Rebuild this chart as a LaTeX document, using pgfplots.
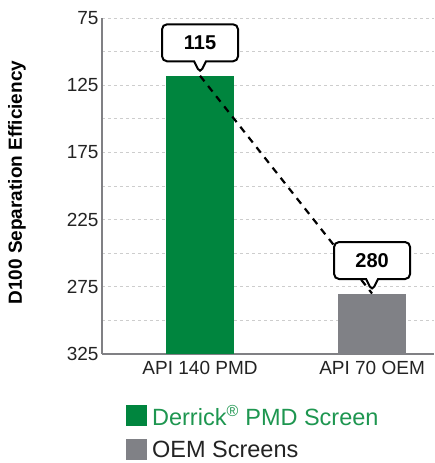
\documentclass[border=0pt]{standalone}
\usepackage{fontspec}
\setmainfont{Liberation Sans}
\usepackage{pgfplots}
\pgfplotsset{compat=1.18}
\usetikzlibrary{shapes.callouts}
\definecolor{pmdgreen}{RGB}{0,133,62}
\definecolor{oemgrey}{RGB}{128,129,134}
\definecolor{legendgreen}{RGB}{30,150,80}
\definecolor{axisgrey}{RGB}{128,128,132}
\definecolor{gridgrey}{RGB}{205,205,205}
\definecolor{ticktext}{RGB}{35,35,35}
\begin{document}
\begin{tikzpicture}
\useasboundingbox (-102pt,-109pt) rectangle (332pt,354pt);
\begin{axis}[
  at={(0,0)}, anchor=south west,
  scale only axis, width=332pt, height=336pt,
  xmin=-0.57, xmax=1.36, ymin=75, ymax=325, y dir=reverse,
  axis x line*=bottom, axis y line*=left,
  axis line style={axisgrey, line width=1.5pt},
  xtick={0,1}, xticklabels={API 140 PMD, API 70 OEM},
  ytick={75,125,175,225,275,325},
  minor ytick={100,150,200,250,300},
  major tick length=0pt, minor tick length=0pt,
  ymajorgrids, yminorgrids,
  major grid style={gridgrey, dashed, line width=0.8pt},
  minor grid style={gridgrey, dashed, line width=0.8pt},
  /pgf/number format/assume math mode=true,
  ticklabel style={font=\fontsize{19}{22}\selectfont, text=ticktext},
  xticklabel style={yshift=-4pt},
  ylabel={D100 Separation Efficiency},
  ylabel style={font=\bfseries\fontsize{19}{22}\selectfont, at={(axis description cs:-0.256,0.51)}, anchor=center, rotate=0},
  legend style={draw=none, fill=none, at={(axis description cs:0.072,-0.146)}, anchor=north west,
    font=\fontsize{23.5}{28}\selectfont, row sep=10pt, inner sep=0pt,
    nodes={inner xsep=5pt}},
  legend cell align=left,
  legend image code/.code={\fill[#1] (0pt,-10pt) rectangle (21pt,11pt);},
]
\addplot[fill=pmdgreen, draw=none] coordinates {(-0.2,325) (-0.2,118) (0.2,118) (0.2,325)} -- cycle;
\addlegendentry{\textcolor{legendgreen}{Derrick\textsuperscript{\fontsize{16}{16}\selectfont ®} PMD Screen}}
\addplot[fill=oemgrey, draw=none] coordinates {(0.8,325) (0.8,280) (1.2,280) (1.2,325)} -- cycle;
\addlegendentry{\textcolor{ticktext}{OEM Screens}}
\addplot[forget plot, black, line width=2.2pt, dash pattern=on 7pt off 6pt,
  point meta=explicit symbolic,
  nodes near coords,
  every node near coord/.style={rectangle callout, draw=black, solid, line width=2pt, fill=white,
    rounded corners=5pt, minimum width=76pt, minimum height=37pt, inner sep=0pt,
    callout relative pointer={(0pt,-12pt)}, callout pointer width=12pt,
    anchor=center, yshift=33pt, font=\bfseries\fontsize{20}{24}\selectfont, text=black},
] coordinates {(0,118) [115] (1,280) [280]};
\end{axis}
\end{tikzpicture}
\end{document}
